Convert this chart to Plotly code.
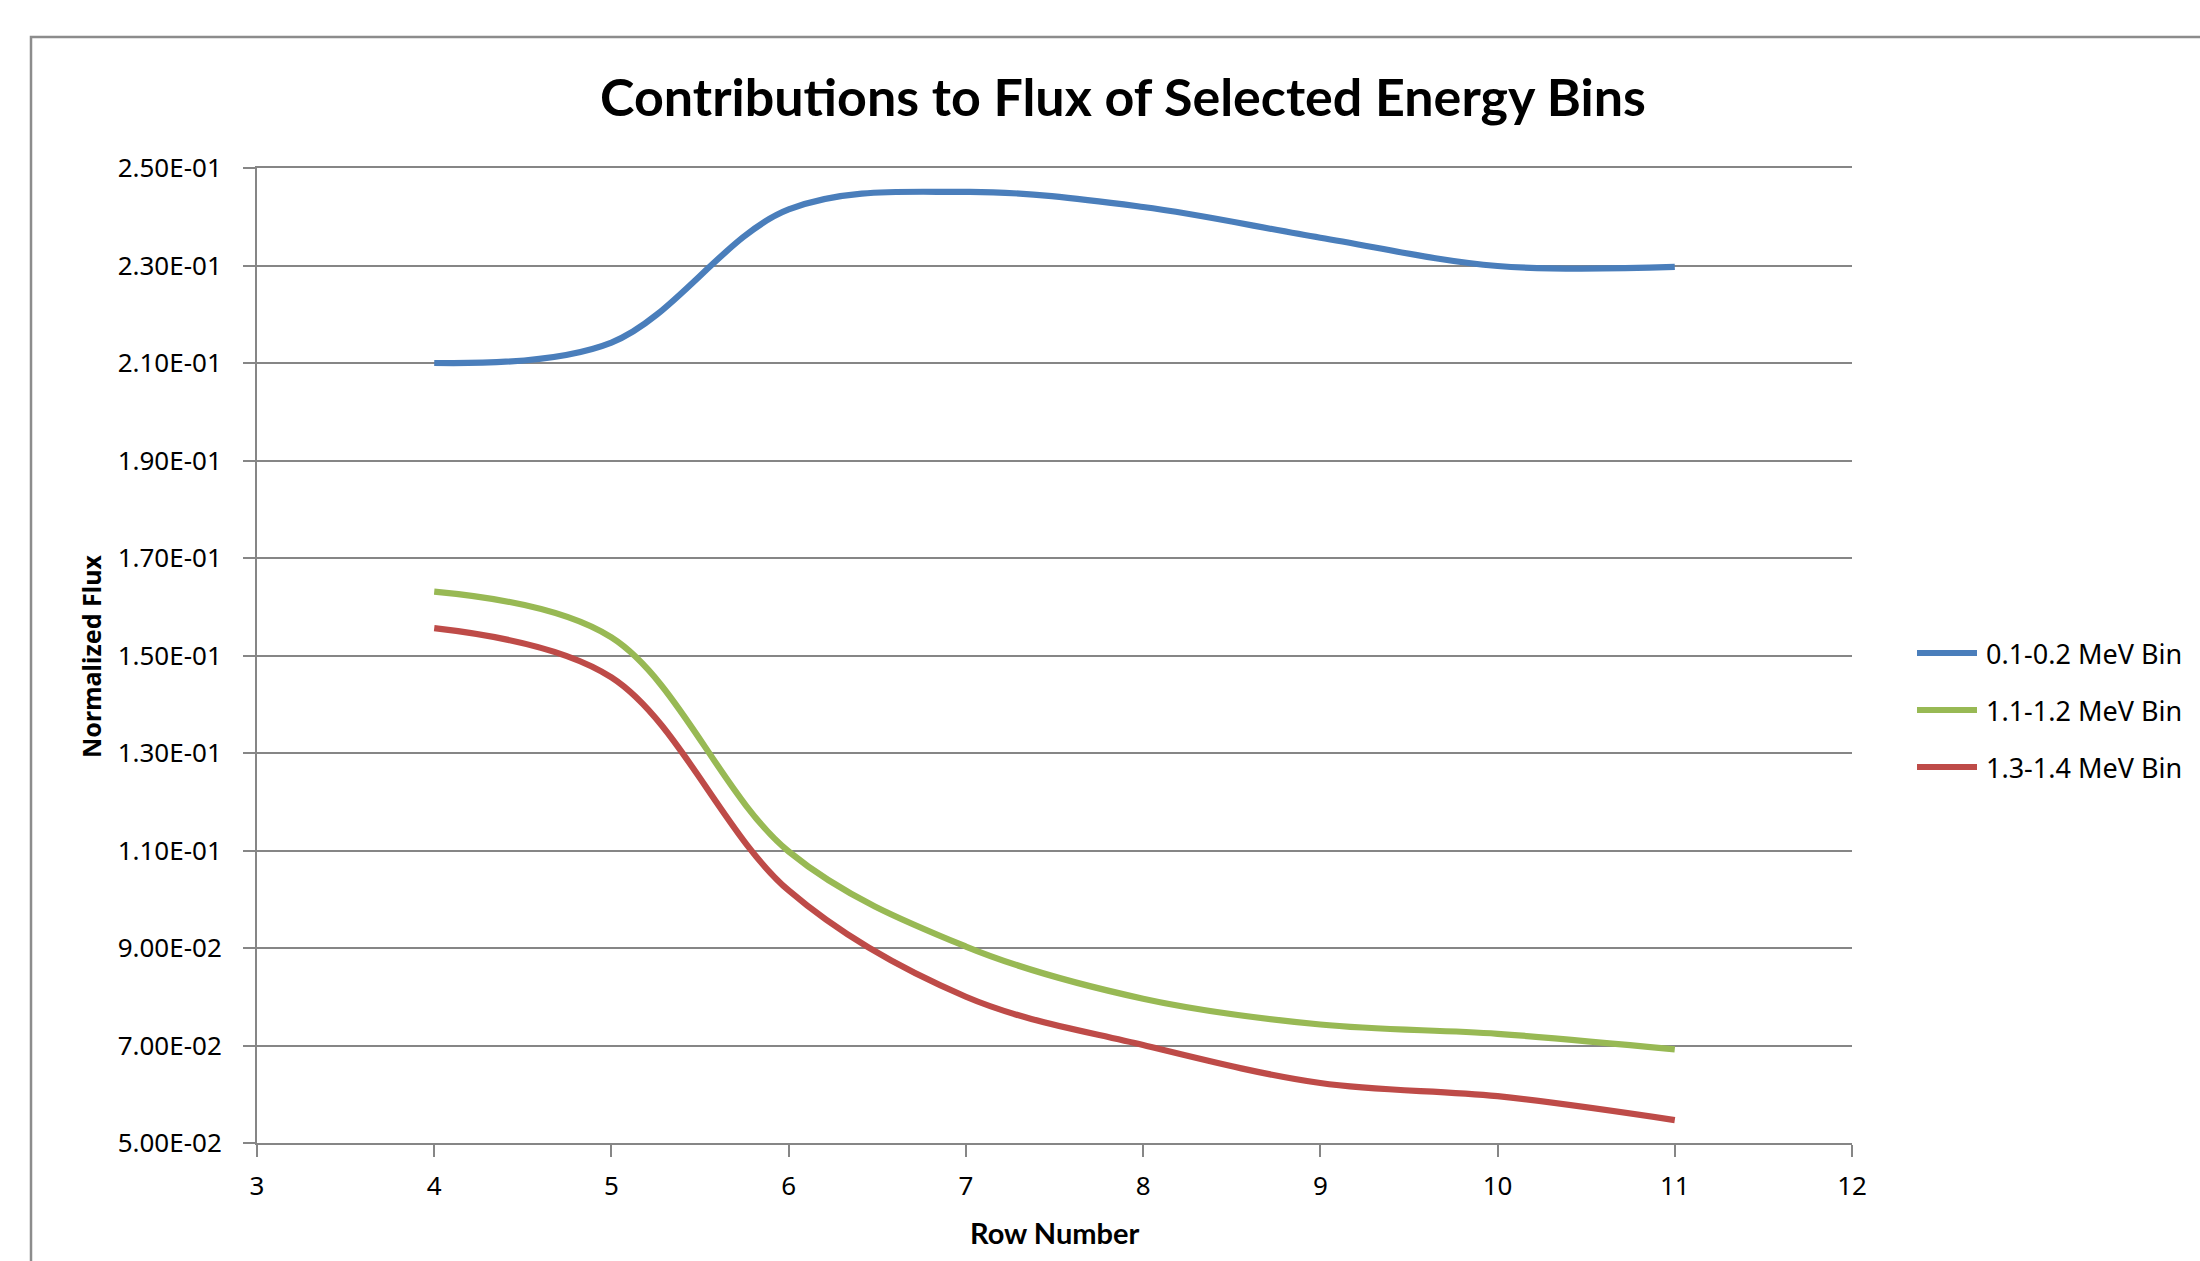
import plotly.graph_objects as go

# ---- data ----
rows = [4, 5, 6, 7, 8, 9, 10, 11]
series_names = ["0.1-0.2 MeV Bin", "1.1-1.2 MeV Bin", "1.3-1.4 MeV Bin"]
flux_01_02 = [0.2100, 0.2142, 0.2415, 0.2451, 0.2420, 0.2357, 0.2299, 0.2297]
flux_11_12 = [0.1631, 0.1537, 0.1098, 0.0903, 0.0796, 0.0743, 0.0724, 0.0692]
flux_13_14 = [0.1556, 0.1455, 0.1018, 0.0800, 0.0701, 0.0623, 0.0596, 0.0547]
x_ticks = [3, 4, 5, 6, 7, 8, 9, 10, 11, 12]
y_ticks = [0.05, 0.07, 0.09, 0.11, 0.13, 0.15, 0.17, 0.19, 0.21, 0.23, 0.25]
y_tick_labels = ["5.00E-02", "7.00E-02", "9.00E-02", "1.10E-01", "1.30E-01",
                 "1.50E-01", "1.70E-01", "1.90E-01", "2.10E-01", "2.30E-01", "2.50E-01"]
title_text = "Contributions to Flux of Selected Energy Bins"
x_title = "Row Number"
y_title = "Normalized Flux"

colors = ["#4A7EBB", "#98B954", "#BE4B48"]
all_series = [flux_01_02, flux_11_12, flux_13_14]

W, H = 2200, 1261
ML, MR, MT, MB = 257, 348, 168, 118
PW, PH = W - ML - MR, H - MT - MB


def px_x(p):
    return (p - ML) / PW


def px_y(p):
    return (H - MB - p) / PH


GRID = "#868686"
TICKFONT = dict(family="Noto Sans, DejaVu Sans, sans-serif", size=26, color="#000000")

fig = go.Figure()
for name, vals, col in zip(series_names, all_series, colors):
    fig.add_trace(go.Scatter(
        x=rows, y=vals, name=name, mode="lines",
        line=dict(color=col, width=6.2, shape="spline", smoothing=1.0),
        showlegend=False,
    ))

shapes = []
annotations = []

# outer chart frame (cut by the page edges on right/bottom)
shapes.append(dict(type="rect", xref="paper", yref="paper",
                   x0=px_x(31), x1=px_x(W + 40), y0=px_y(H + 40), y1=px_y(37),
                   line=dict(color="#8C8C8C", width=2.5), fillcolor="rgba(0,0,0,0)",
                   layer="below"))

# manual legend
legend_rows = [653, 710, 767]
for name, col, ry in zip(series_names, colors, legend_rows):
    shapes.append(dict(type="line", xref="paper", yref="paper",
                       x0=px_x(1917), x1=px_x(1977), y0=px_y(ry), y1=px_y(ry),
                       line=dict(color=col, width=6)))
    annotations.append(dict(xref="paper", yref="paper", x=px_x(1984), y=px_y(ry),
                            xanchor="left", yanchor="middle", showarrow=False,
                            text=name,
                            font=dict(family="Noto Sans, DejaVu Sans, sans-serif",
                                      size=27, color="#000000")))

# axis titles
annotations.append(dict(xref="paper", yref="paper", x=px_x(91), y=px_y(657),
                        xanchor="center", yanchor="middle", showarrow=False,
                        text=y_title, textangle=-90,
                        font=dict(family="Noto Sans, DejaVu Sans, sans-serif",
                                  size=25, color="#000000", weight="bold")))
annotations.append(dict(xref="paper", yref="paper", x=px_x(1054), y=px_y(1232),
                        xanchor="center", yanchor="middle", showarrow=False,
                        text=x_title,
                        font=dict(family="Lato, sans-serif", size=29,
                                  color="#000000", weight="bold")))

fig.update_layout(
    width=W, height=H,
    margin=dict(l=ML, r=MR, t=MT, b=MB, pad=0),
    paper_bgcolor="white", plot_bgcolor="white",
    title=dict(text=title_text, x=px_x(1123), xref="paper", xanchor="center",
               y=1 - 98 / H, yref="container", yanchor="middle",
               font=dict(family="Lato, sans-serif", size=52, color="#000000",
                         weight="bold")),
    xaxis=dict(range=[3, 12], tickmode="array", tickvals=x_ticks,
               ticktext=[str(v) for v in x_ticks],
               showgrid=False, zeroline=False,
               showline=True, linecolor=GRID, linewidth=2, mirror=True,
               ticks="outside", ticklen=12, tickwidth=2, tickcolor=GRID,
               tickfont=TICKFONT, ticklabelstandoff=7),
    yaxis=dict(range=[0.05, 0.25], tickmode="array", tickvals=y_ticks,
               ticktext=y_tick_labels,
               showgrid=True, gridcolor=GRID, gridwidth=2, zeroline=False,
               showline=True, linecolor=GRID, linewidth=2,
               ticks="outside", ticklen=12, tickwidth=2, tickcolor=GRID,
               tickfont=TICKFONT, ticklabelstandoff=16),
    shapes=shapes,
    annotations=annotations,
)

fig.write_html("out.html",
               config={"displayModeBar": False},
               post_script="document.body.style.margin='0';document.body.style.overflow='hidden';")
